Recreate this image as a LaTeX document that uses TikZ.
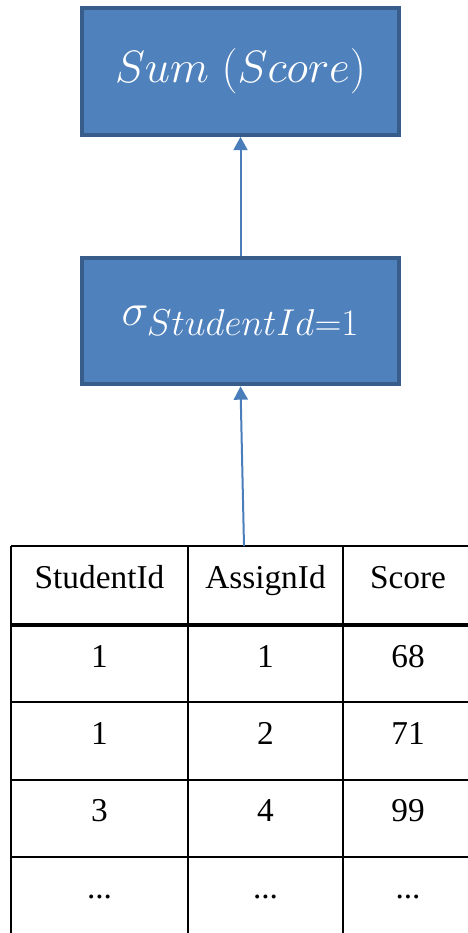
\RequirePackage{fix-cm}
\documentclass[tikz,border=0pt]{standalone}
\usepackage{tikz}
\usepackage{amsmath, amsfonts, amssymb}
\usepackage{fontspec}
\usetikzlibrary{arrows.meta}
\newfontfamily\tabfont{Liberation Serif}
\newcommand{\more}{...}
\DeclareMathSizes{34}{34}{28}{22}
\definecolor{opfill}{HTML}{4F81BD}
\definecolor{opline}{HTML}{385D8A}
\definecolor{flowblue}{HTML}{4A7EBB}

\begin{document}
\begin{tikzpicture}[x=0.75pt,y=-0.75pt]
	\tikzstyle{opbox}=[rectangle,draw=opline,fill=opfill,line width=3pt,minimum width=237.75pt,minimum height=95pt,text=white,font=\fontsize{34}{40}\selectfont]
	\tikzstyle{cell}=[anchor=base,font=\tabfont\fontsize{25}{30}\selectfont]
	\tikzstyle{grid}=[draw=black,line width=1.5pt]
	\tikzstyle{flow}=[color=flowblue,line width=1.5pt,-{Triangle[width=10.5pt,length=10pt]}]
	\useasboundingbox (0,0) rectangle (468,933);
	\clip (0,0) rectangle (468,933);

	% operators
	\node[opbox](sum) at (240.5,71.5){$Sum\;(Score)$\hspace{8pt}};
	\node[opbox](sel) at (240.5,321){$\sigma_{StudentId=1}$\hspace{8pt}};

	% table
	\foreach \y in {546,702,780,857}
		\draw[grid] (11,\y) -- (480,\y);
	\draw[grid,line width=3pt] (11,625) -- (480,625);
	\foreach \x in {11,188,343}
		\draw[grid] (\x,546) -- (\x,940);
	\coordinate (tabtop) at (244,546);

	\node[cell](h1) at (99.5,588){StudentId};
	\node[cell](h2) at (265.5,588){AssignId};
	\node[cell](h3) at (408,588){Score};
	\foreach \sid/\aid/\sc [count=\r] in {1/1/68,1/2/71,3/4/99,\more/\more/\more}{
		\node[cell](r\r a) at (99.5,667+77.3*\r-77.3){\sid};
		\node[cell](r\r b) at (265.5,667+77.3*\r-77.3){\aid};
		\node[cell](r\r c) at (408,667+77.3*\r-77.3){\sc};
	}

	\draw[flow] (sel) -- (sum);
	\draw[flow] (tabtop) -- (sel.south);
\end{tikzpicture}
\end{document}
